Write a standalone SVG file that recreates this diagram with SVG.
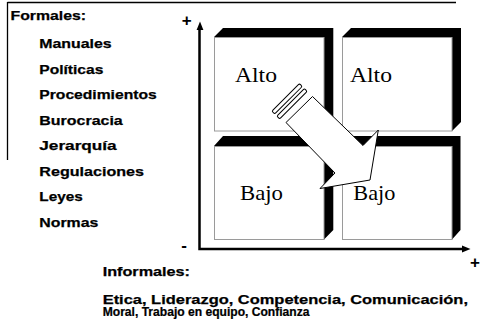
<svg xmlns="http://www.w3.org/2000/svg" width="480" height="320" viewBox="0 0 480 320">
<style>
.bevel{fill:#000}
.face{fill:#fff;stroke:#9a9a9a;stroke-width:1}
.t{font-family:"Liberation Sans",Arial,sans-serif;font-weight:bold;font-size:13px;fill:#000;stroke:#000;stroke-width:0.25}
.s{font-family:"Liberation Sans",Arial,sans-serif;font-weight:bold;font-size:17px;fill:#000}
.q{font-family:"Liberation Serif","Times New Roman",serif;font-size:21px;fill:#000}
.ax{stroke:#000;stroke-width:2.5;fill:none}
.frame{stroke:#000;stroke-width:1.3;fill:none}
</style>
<rect width="480" height="320" fill="#fff"/>
<g id="frame">
<path class="frame" d="M7.5 2.5 H456 M7.5 2 V160"/>
</g>
<g id="formales">
<text class="t" x="10.5" y="20" textLength="75.5" lengthAdjust="spacingAndGlyphs">Formales:</text>
<text class="t" x="39.3" y="48" textLength="72.4" lengthAdjust="spacingAndGlyphs">Manuales</text>
<text class="t" x="39.3" y="73.5" textLength="64" lengthAdjust="spacingAndGlyphs">Políticas</text>
<text class="t" x="39.3" y="99" textLength="117.4" lengthAdjust="spacingAndGlyphs">Procedimientos</text>
<text class="t" x="39.3" y="124.5" textLength="83.4" lengthAdjust="spacingAndGlyphs">Burocracia</text>
<text class="t" x="39.3" y="150" textLength="77.4" lengthAdjust="spacingAndGlyphs">Jerarquía</text>
<text class="t" x="39.3" y="175.5" textLength="104.7" lengthAdjust="spacingAndGlyphs">Regulaciones</text>
<text class="t" x="39.3" y="201" textLength="43.4" lengthAdjust="spacingAndGlyphs">Leyes</text>
<text class="t" x="39.3" y="226.5" textLength="59" lengthAdjust="spacingAndGlyphs">Normas</text>
</g>
<g id="informales">
<text class="t" x="102.7" y="276" textLength="87.3" lengthAdjust="spacingAndGlyphs">Informales:</text>
<text class="t" x="102.7" y="304" textLength="365.3" lengthAdjust="spacingAndGlyphs">Etica, Liderazgo, Competencia, Comunicación,</text>
<text class="t" transform="translate(102.7,315.8) scale(0.93,1)">Moral, Trabajo en equipo, Confianza</text>
</g>
<g id="box-alto-left">
<polygon class="bevel" points="214,37 223,28 333.3,28 333.3,122 324,131 324,37"/>
<rect class="face" x="214.5" y="37.5" width="109.5" height="93.5"/>
<text class="q" x="235" y="82" textLength="42" lengthAdjust="spacingAndGlyphs">Alto</text>
</g>
<g id="box-alto-right">
<polygon class="bevel" points="342,37 351,28 461,28 461,122 452,131 452,37"/>
<rect class="face" x="342.5" y="37.5" width="109.5" height="93.5"/>
<text class="q" x="350" y="82" textLength="42" lengthAdjust="spacingAndGlyphs">Alto</text>
</g>
<g id="box-bajo-left">
<polygon class="bevel" points="214,146 223,136 333.3,136 333.3,230 324,239.5 324,146"/>
<rect class="face" x="214.5" y="146.5" width="109.5" height="93"/>
<text class="q" x="240" y="200" textLength="43" lengthAdjust="spacingAndGlyphs">Bajo</text>
</g>
<g id="box-bajo-right">
<polygon class="bevel" points="342,146 351,136 460.5,136 460.5,230 452,239.5 452,146"/>
<rect class="face" x="342.5" y="146.5" width="109.5" height="93"/>
<text class="q" x="353.3" y="200" textLength="42" lengthAdjust="spacingAndGlyphs">Bajo</text>
</g>
<g id="big-arrow" fill="#fff" stroke="#000" stroke-width="1" stroke-linejoin="miter">
<polygon points="286,122.5 312.5,96.5 363,145.5 378.3,130 370,180 320,188.5 335,173"/>
<g transform="translate(286,122.5) rotate(45)">
<rect x="-18" y="-37" width="4" height="39" rx="1.5"/>
<rect x="-11" y="-37" width="4" height="39" rx="1.5"/>
</g>
</g>
<g id="connectors">
<path class="ax" d="M199.5 250.2 V29 M198.3 249 H463"/>
<polygon points="200,21.5 196.6,30 203.4,30" fill="#000"/>
<polygon points="470.5,249 462,245.6 462,252.4" fill="#000"/>
</g>
<g id="axis-signs">
<text class="s" x="186.7" y="26" text-anchor="middle">+</text>
<text class="s" x="184" y="251.3" text-anchor="middle">-</text>
<text class="s" x="475" y="267.7" text-anchor="middle">+</text>
</g>
</svg>
